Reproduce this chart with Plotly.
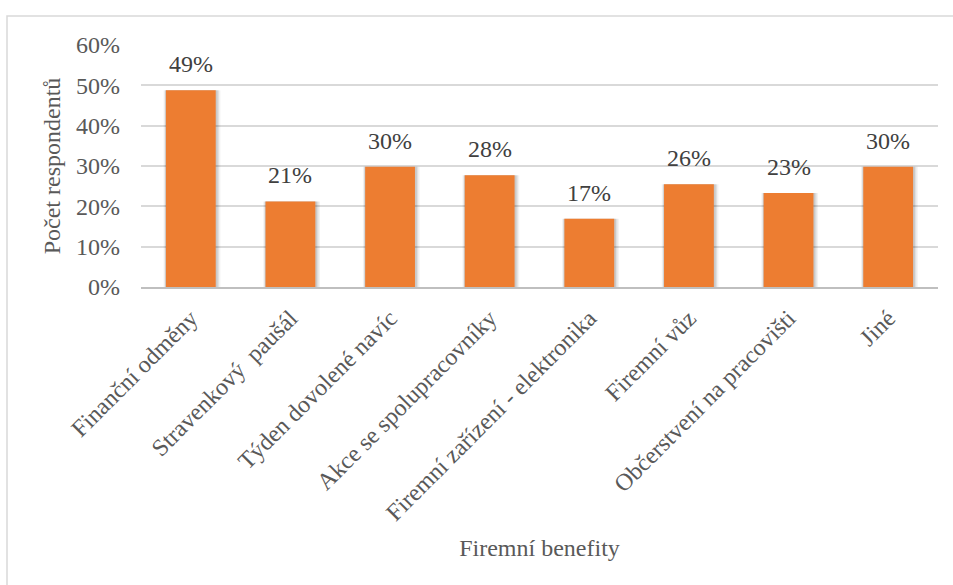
import plotly.graph_objects as go

categories = ["Finanční odměny", "Stravenkový  paušál", "Týden dovolené navíc",
              "Akce se spolupracovníky", "Firemní zařízení - elektronika",
              "Firemní vůz", "Občerstvení na pracovišti", "Jiné"]
values = [0.488, 0.212, 0.298, 0.277, 0.169, 0.255, 0.233, 0.298]
labels = ["49%", "21%", "30%", "28%", "17%", "26%", "23%", "30%"]

FONT = "Liberation Serif"
GRAY = "#595959"
FS = 24
BAR_W = 0.5

fig = go.Figure()
# soft shadow layers behind the bars
for extra, shift, alpha in [(0.07, 0.012, 0.05), (0.045, 0.01, 0.07), (0.025, 0.006, 0.10)]:
    w = BAR_W + extra
    fig.add_trace(go.Bar(
        x=categories, y=values, width=w, offset=-w / 2 + shift,
        marker=dict(color=f"rgba(0,0,0,{alpha})", line=dict(width=0)),
        hoverinfo="skip",
    ))
fig.add_trace(go.Bar(
    x=categories, y=values, width=BAR_W, offset=-BAR_W / 2,
    marker=dict(color="#ED7D31", line=dict(width=0)),
))

for c, v, t in zip(categories, values, labels):
    fig.add_annotation(x=c, y=v, text=t, showarrow=False, yanchor="bottom",
                       yshift=11, font=dict(family=FONT, size=FS, color="#404040"))

L, R, T, B = 141, 15, 45, 298
W, H = 953, 585
pw, ph = W - L - R, H - T - B

fig.update_layout(
    width=W, height=H,
    margin=dict(l=L, r=R, t=T, b=B),
    paper_bgcolor="white", plot_bgcolor="white",
    showlegend=False, barmode="overlay",
    font=dict(family=FONT, size=FS, color=GRAY),
    xaxis=dict(
        tickangle=-45, tickfont=dict(family=FONT, size=FS, color=GRAY),
        showgrid=False, showline=True, linecolor="#BFBFBF", linewidth=1.5,
        ticklabelstandoff=6,
        title=dict(text="Firemní benefity", font=dict(family=FONT, size=FS, color=GRAY), standoff=14),
        automargin=False,
    ),
    yaxis=dict(
        range=[0, 0.6], dtick=0.1, tickformat=".0%",
        tickfont=dict(family=FONT, size=FS, color=GRAY),
        showgrid=True, gridcolor="#D9D9D9", gridwidth=1.5,
        zeroline=False, showline=False, ticklabelstandoff=20,
        title=dict(text="Počet respondentů", font=dict(family=FONT, size=FS, color=GRAY), standoff=8),
        automargin=False,
    ),
)

# outer chart border
fig.add_shape(type="rect", xref="paper", yref="paper",
              x0=(7 - L) / pw, x1=(960 - L) / pw,
              y0=-(600 - T - ph) / ph, y1=(H - 16 - B) / ph,
              line=dict(color="#D9D9D9", width=1.5), fillcolor="rgba(0,0,0,0)", layer="below")

fig.write_html("out.html")
